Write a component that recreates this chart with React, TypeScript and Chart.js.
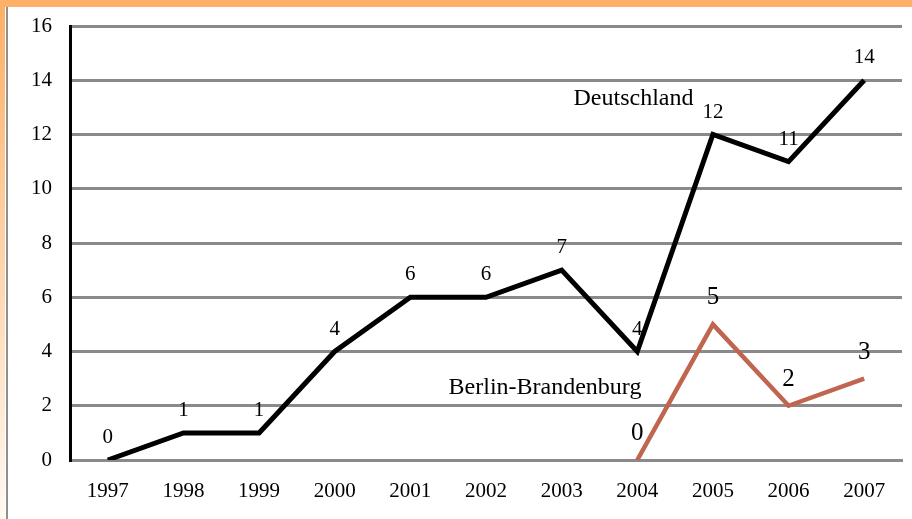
import React, { useEffect, useRef } from 'react';
import { Chart, registerables } from 'chart.js';

Chart.register(...registerables);

const years = ['1997', '1998', '1999', '2000', '2001', '2002', '2003', '2004', '2005', '2006', '2007'];
const deutschland = [0, 1, 1, 4, 6, 6, 7, 4, 12, 11, 14];
const berlinBrandenburg = [null, null, null, null, null, null, null, 0, 5, 2, 3];
const seriesNames = ['Deutschland', 'Berlin-Brandenburg'];
const yMin = 0;
const yMax = 16;
const yStep = 2;

const FONT = "'Liberation Serif', 'Times New Roman', serif";

export default function App() {
  const ref = useRef<HTMLCanvasElement>(null);

  useEffect(() => {
    document.body.style.margin = '0';
    const canvas = ref.current;
    if (!canvas) return;

    const labelStyles = [
      { size: 21, offset: 17 },
      { size: 25, offset: 20 },
    ];
    // series name anchors in data units (category index, value)
    const nameAnchors = [
      { idx: 6.95, val: 13.09, size: 24 },
      { idx: 5.78, val: 2.43, size: 24 },
    ];

    const labelPlugin = {
      id: 'valueLabels',
      afterDatasetsDraw(chart: any) {
        const ctx = chart.ctx;
        ctx.save();
        ctx.fillStyle = '#000';
        ctx.textAlign = 'center';
        ctx.textBaseline = 'alphabetic';
        chart.data.datasets.forEach((ds: any, i: number) => {
          const meta = chart.getDatasetMeta(i);
          const cfg = labelStyles[i];
          ctx.font = `${cfg.size}px ${FONT}`;
          meta.data.forEach((pt: any, j: number) => {
            const v = ds.data[j];
            if (v == null) return;
            ctx.fillText(String(v), pt.x, pt.y - cfg.offset);
          });
        });
        const xs = chart.scales.x;
        const ys = chart.scales.y;
        const step = xs.getPixelForValue(1) - xs.getPixelForValue(0);
        seriesNames.forEach((name, i) => {
          const a = nameAnchors[i];
          const base = Math.floor(a.idx);
          const x = xs.getPixelForValue(base) + (a.idx - base) * step;
          const y = ys.getPixelForValue(a.val);
          ctx.font = `${a.size}px ${FONT}`;
          ctx.fillText(name, x, y);
        });
        ctx.restore();
      },
    };

    const chart = new Chart(canvas, {
      type: 'line',
      data: {
        labels: years,
        datasets: [
          {
            label: seriesNames[0],
            data: deutschland,
            borderColor: '#000000',
            borderWidth: 5,
            pointRadius: 0,
            tension: 0,
            borderJoinStyle: 'miter',
          },
          {
            label: seriesNames[1],
            data: berlinBrandenburg as any,
            borderColor: '#C0654F',
            borderWidth: 4.5,
            pointRadius: 0,
            tension: 0,
            borderJoinStyle: 'miter',
          },
        ],
      },
      options: {
        responsive: false,
        animation: false,
        devicePixelRatio: 1,
        layout: { padding: { top: 26, right: 10, left: 0, bottom: 0 } },
        plugins: {
          legend: { display: false },
          title: { display: false },
          tooltip: { enabled: false },
        },
        scales: {
          x: {
            type: 'category',
            offset: true,
            grid: { display: false, drawTicks: false },
            border: { display: true, color: '#8A8A8A', width: 3 },
            ticks: {
              color: '#000',
              font: { family: FONT, size: 21 },
              padding: 19,
              maxRotation: 0,
              autoSkip: false,
            },
            afterFit: (s: any) => {
              s.height = 59;
              s.paddingLeft = 0;
              s.paddingRight = 0;
            },
          },
          y: {
            min: yMin,
            max: yMax,
            grid: { color: '#8A8A8A', lineWidth: 3, drawTicks: false },
            border: { display: true, color: '#000', width: 3 },
            ticks: {
              stepSize: yStep,
              color: '#000',
              font: { family: FONT, size: 21 },
              padding: 18,
            },
            afterFit: (s: any) => {
              s.width = 70;
              s.paddingTop = 0;
              s.paddingBottom = 0;
            },
          },
        },
      },
      plugins: [labelPlugin],
    } as any);

    return () => chart.destroy();
  }, []);

  return (
    <div style={{ position: 'absolute', left: 0, top: 0, width: 912, height: 519, background: '#fff', overflow: 'hidden' }}>
      <canvas ref={ref} width={912} height={519} style={{ position: 'absolute', left: 0, top: 0 }} />
      <div
        style={{
          position: 'absolute',
          left: 0,
          top: 7,
          width: 5,
          height: 512,
          background: 'linear-gradient(#FDB066, #FFF9F2)',
        }}
      />
      <div style={{ position: 'absolute', left: 6, top: 7, width: 2, height: 512, background: '#8F8F8F' }} />
      <div style={{ position: 'absolute', left: 0, top: 0, width: 912, height: 7, background: '#FDB066' }} />
    </div>
  );
}
